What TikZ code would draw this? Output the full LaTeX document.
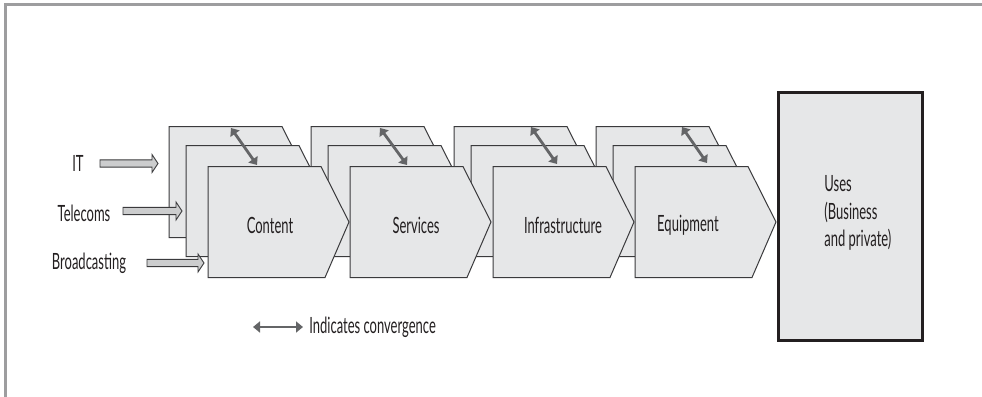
\documentclass[tikz,border=0pt]{standalone}
\usepackage{fontspec}
\setmainfont{Lato}[FakeStretch=0.58]
\usetikzlibrary{arrows.meta,calc}
\definecolor{boxfill}{HTML}{E6E7E8}
\definecolor{edgecol}{HTML}{3A3A3C}
\definecolor{framecol}{HTML}{9D9D9F}
\definecolor{convcol}{HTML}{646567}
\definecolor{txtcol}{HTML}{231F20}
\tikzset{
  layer/.style={fill=boxfill, draw=edgecol, line width=0.5pt, line join=miter},
  lbl/.style={font=\fontsize{11.2}{13.75}\selectfont, text=txtcol, inner sep=0pt},
  inarrow/.style={fill=boxfill!75!gray, draw=edgecol, line width=0.45pt},
  conv/.style={draw=convcol, line width=1.4pt,
    {Triangle[width=5.5pt,length=3.5pt]}-{Triangle[width=5.5pt,length=3.5pt]}},
  usesbox/.style={fill=boxfill, draw=txtcol, line width=1.5pt,
    minimum width=72pt, minimum height=124pt, inner sep=0pt},
}
\begin{document}
\begin{tikzpicture}[x=0.5pt,y=-0.5pt]
\useasboundingbox (0,0) rectangle (982,397);
% frame
\draw[framecol, line width=1.3pt] (5.5,397) -- (5.5,4.7) -- (982,4.7);

% stacked chevrons: back layers, middle layers, front layers
\foreach \dx/\dy in {-39/-40,-22/-21,0/0}{
  \foreach \X in {208,350,493,635}{
    \draw[layer] (\X+\dx,166.5+\dy) -- ++(113,0) -- ++(28,55.5) -- ++(-24,55.5) -- ++(-117,0) -- cycle;
  }
}

% labels of chevrons
\node[lbl] (content) at (270,225) {Content};
\node[lbl] (services) at (416,225) {Services};
\node[lbl] (infra) at (563,225) {Infrastructure};
\node[lbl] (equip) at (688,225) {Equipment};

% convergence arrows
\coordinate (c1a) at (231,128); \coordinate (c1b) at (257,165);
\coordinate (c2a) at (380,128); \coordinate (c2b) at (407,165);
\coordinate (c3a) at (531,127); \coordinate (c3b) at (557,164);
\coordinate (c4a) at (682,127); \coordinate (c4b) at (707,163);
\draw[conv] (c1a) -- (c1b);
\draw[conv] (c2a) -- (c2b);
\draw[conv] (c3a) -- (c3b);
\draw[conv] (c4a) -- (c4b);

% uses box
\node[usesbox] (uses) at (850,216) {};
\node[lbl, align=left, anchor=west] (usestext) at (824,213) {Uses\\(Business\\and private)};

% inputs
\node[lbl] (it) at (78,163) {IT};
\node[lbl] (tel) at (84,213) {Telecoms};
\node[lbl] (bro) at (89,263) {Broadcasting};
\coordinate (its) at (100,163.5); \coordinate (itt) at (158,163.5);
\coordinate (tels) at (123,211); \coordinate (telt) at (182,211);
\coordinate (bros) at (147,263); \coordinate (brot) at (204,263);
\foreach \s/\t in {its/itt,tels/telt,bros/brot}{
  \draw[inarrow] let \p1=(\s), \p2=(\t) in
    (\x1,\y1+1.8pt) -- (\x2-3pt,\y1+1.8pt) -- (\x2-3pt,\y1+4.5pt) -- (\x2,\y1)
    -- (\x2-3pt,\y1-4.5pt) -- (\x2-3pt,\y1-1.8pt) -- (\x1,\y1-1.8pt) -- cycle;
}

% legend
\coordinate (lga) at (253,327); \coordinate (lgb) at (303,327);
\draw[conv] (lga) -- (lgb);
\node[lbl, anchor=west] (legend) at (309,327) {Indicates convergence};
\end{tikzpicture}
\end{document}
